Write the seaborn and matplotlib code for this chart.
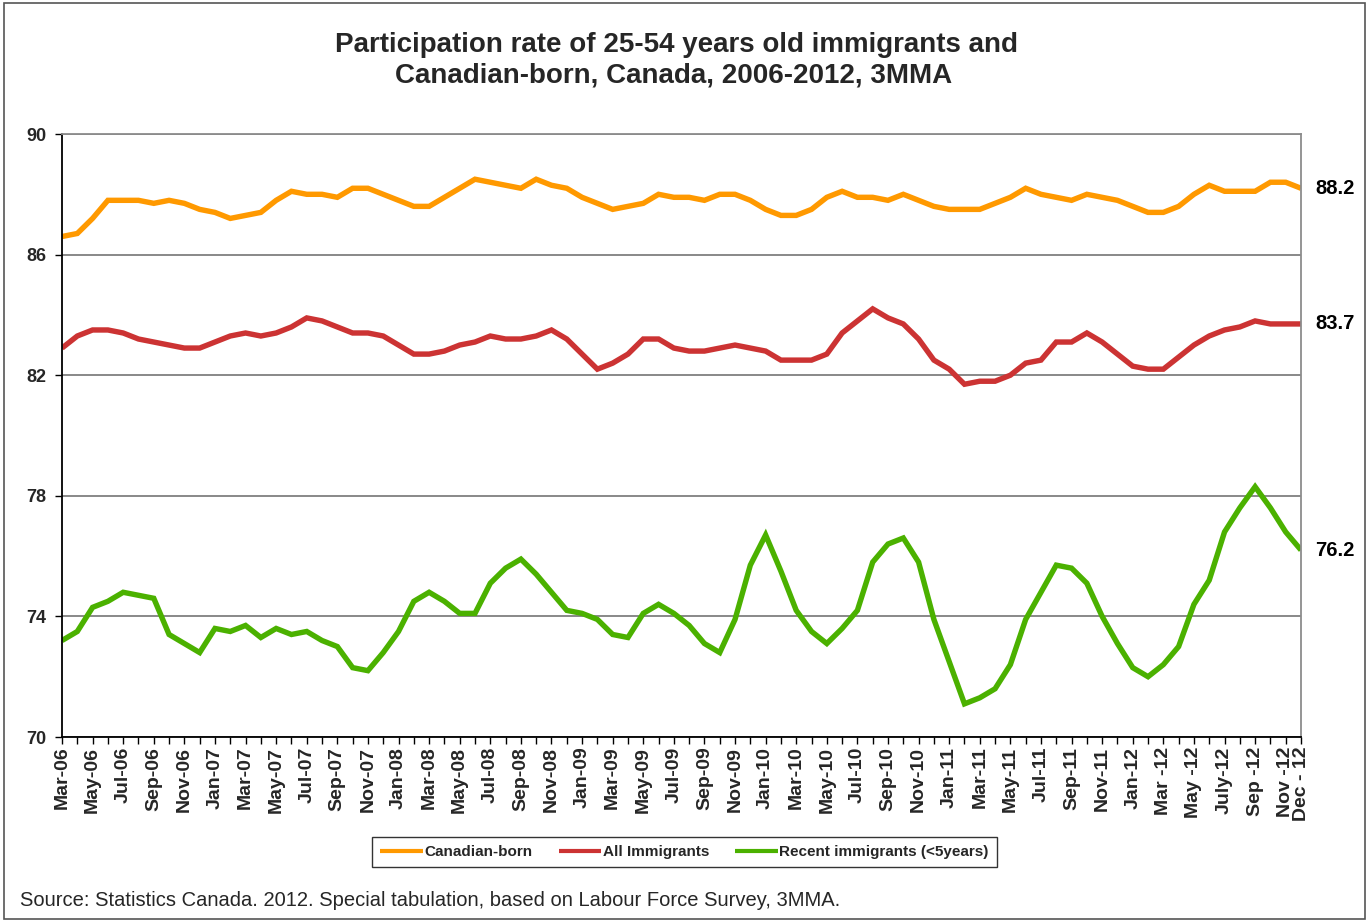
import matplotlib
matplotlib.use("Agg")
import matplotlib.pyplot as plt
from matplotlib.patches import Rectangle
import pandas as pd
import seaborn as sns

# Monthly 3-month moving averages, Mar 2006 - Dec 2012
canadian_born = [
    86.6, 86.7, 87.2, 87.8, 87.8, 87.8, 87.7, 87.8, 87.7, 87.5,
    87.4, 87.2, 87.3, 87.4, 87.8, 88.1, 88.0, 88.0, 87.9, 88.2,
    88.2, 88.0, 87.8, 87.6, 87.6, 87.9, 88.2, 88.5, 88.4, 88.3,
    88.2, 88.5, 88.3, 88.2, 87.9, 87.7, 87.5, 87.6, 87.7, 88.0,
    87.9, 87.9, 87.8, 88.0, 88.0, 87.8, 87.5, 87.3, 87.3, 87.5,
    87.9, 88.1, 87.9, 87.9, 87.8, 88.0, 87.8, 87.6, 87.5, 87.5,
    87.5, 87.7, 87.9, 88.2, 88.0, 87.9, 87.8, 88.0, 87.9, 87.8,
    87.6, 87.4, 87.4, 87.6, 88.0, 88.3, 88.1, 88.1, 88.1, 88.4,
    88.4, 88.2,
]
all_immigrants = [
    82.9, 83.3, 83.5, 83.5, 83.4, 83.2, 83.1, 83.0, 82.9, 82.9,
    83.1, 83.3, 83.4, 83.3, 83.4, 83.6, 83.9, 83.8, 83.6, 83.4,
    83.4, 83.3, 83.0, 82.7, 82.7, 82.8, 83.0, 83.1, 83.3, 83.2,
    83.2, 83.3, 83.5, 83.2, 82.7, 82.2, 82.4, 82.7, 83.2, 83.2,
    82.9, 82.8, 82.8, 82.9, 83.0, 82.9, 82.8, 82.5, 82.5, 82.5,
    82.7, 83.4, 83.8, 84.2, 83.9, 83.7, 83.2, 82.5, 82.2, 81.7,
    81.8, 81.8, 82.0, 82.4, 82.5, 83.1, 83.1, 83.4, 83.1, 82.7,
    82.3, 82.2, 82.2, 82.6, 83.0, 83.3, 83.5, 83.6, 83.8, 83.7,
    83.7, 83.7,
]
recent_immigrants = [
    73.2, 73.5, 74.3, 74.5, 74.8, 74.7, 74.6, 73.4, 73.1, 72.8,
    73.6, 73.5, 73.7, 73.3, 73.6, 73.4, 73.5, 73.2, 73.0, 72.3,
    72.2, 72.8, 73.5, 74.5, 74.8, 74.5, 74.1, 74.1, 75.1, 75.6,
    75.9, 75.4, 74.8, 74.2, 74.1, 73.9, 73.4, 73.3, 74.1, 74.4,
    74.1, 73.7, 73.1, 72.8, 73.9, 75.7, 76.7, 75.5, 74.2, 73.5,
    73.1, 73.6, 74.2, 75.8, 76.4, 76.6, 75.8, 73.9, 72.5, 71.1,
    71.3, 71.6, 72.4, 73.9, 74.8, 75.7, 75.6, 75.1, 74.0, 73.1,
    72.3, 72.0, 72.4, 73.0, 74.4, 75.2, 76.8, 77.6, 78.3, 77.6,
    76.8, 76.2,
]
series_names = ["Canadian-born", "All Immigrants", "Recent immigrants (<5years)"]
series_colors = ["#FF9900", "#CC3333", "#4BB100"]

tick_labels = [
    "Mar-06", "May-06", "Jul-06", "Sep-06", "Nov-06",
    "Jan-07", "Mar-07", "May-07", "Jul-07", "Sep-07", "Nov-07",
    "Jan-08", "Mar-08", "May-08", "Jul-08", "Sep-08", "Nov-08",
    "Jan-09", "Mar-09", "May-09", "Jul-09", "Sep-09", "Nov-09",
    "Jan-10", "Mar-10", "May-10", "Jul-10", "Sep-10", "Nov-10",
    "Jan-11", "Mar-11", "May-11", "Jul-11", "Sep-11", "Nov-11",
    "Jan-12", "Mar -12", "May -12", "July-12", "Sep -12", "Nov -12",
    "Dec - 12",
]

title_lines = ["Participation rate of 25-54 years old immigrants and",
               "Canadian-born, Canada, 2006-2012, 3MMA"]
source = "Source: Statistics Canada. 2012. Special tabulation, based on Labour Force Survey, 3MMA."

n = len(canadian_born)
frames = []
for name, vals in zip(series_names, [canadian_born, all_immigrants, recent_immigrants]):
    frames.append(pd.DataFrame({"month": range(n), "rate": vals, "series": name}))
df = pd.concat(frames, ignore_index=True)

sns.set_theme(style="white")
plt.rcParams["font.family"] = ["Liberation Sans", "DejaVu Sans"]

fig = plt.figure(figsize=(13.69, 9.22), dpi=100)
ax = fig.add_axes([62 / 1369, 1 - 737 / 922, (1301 - 62) / 1369, (737 - 134) / 922])

sns.lineplot(data=df, x="month", y="rate", hue="series", hue_order=series_names,
             palette=series_colors, linewidth=3.9, sort=False, ax=ax, legend=False,
             solid_joinstyle="miter", solid_capstyle="butt")

ax.set_xlim(0, n - 1)
ax.set_ylim(70, 90)
ax.set_yticks([70, 74, 78, 82, 86, 90])
ax.set_yticklabels(["70", "74", "78", "82", "86", "90"], fontsize=13, fontweight="bold")

tick_pos = list(range(0, n - 1, 2)) + [n - 1]
ax.set_xticks(range(n), minor=True)
ax.set_xticks(tick_pos)
ax.set_xticklabels(tick_labels, rotation=90, fontsize=14, fontweight="bold",
                   ha="center", va="top")
ax.tick_params(axis="x", which="both", direction="out", length=5, width=1,
               color="black", pad=2, bottom=True)
ax.tick_params(axis="y", direction="out", length=5, width=1, color="black",
               pad=6, left=True)
ax.set_xlabel("")
ax.set_ylabel("")

ax.grid(axis="y", color="#7f7f7f", linewidth=1.3)
ax.grid(axis="x", visible=False)
ax.set_axisbelow(True)
for side in ["left", "bottom"]:
    ax.spines[side].set_color("black")
    ax.spines[side].set_linewidth(1.3)
for side in ["right", "top"]:
    ax.spines[side].set_color("#8c8c8c")
    ax.spines[side].set_linewidth(1.3)

# End-of-period values
for vals in [canadian_born, all_immigrants, recent_immigrants]:
    ax.annotate(f"{vals[-1]:.1f}", xy=(n - 1, vals[-1]), xytext=(14, 0),
                textcoords="offset pixels", ha="left", va="center",
                fontsize=14.5, fontweight="bold", color="black", annotation_clip=False)

fig.text(0.494, 0.951, title_lines[0], ha="center", va="center",
         fontsize=20, fontweight="bold")
fig.text(0.492, 0.918, title_lines[1], ha="center", va="center",
         fontsize=20, fontweight="bold")

handles = ax.get_lines()[:3]
leg = fig.legend(handles, series_names, loc="center", bbox_to_anchor=(0.5, 0.076),
                 ncol=3, frameon=True, fancybox=False, shadow=False,
                 prop={"size": 11, "weight": "bold"}, handlelength=2.8,
                 handletextpad=0.1, columnspacing=1.7, borderpad=0.55,
                 borderaxespad=0)
leg.get_frame().set_edgecolor("black")
leg.get_frame().set_linewidth(1.0)
for h in leg.get_lines():
    h.set_linewidth(3.0)

fig.text(20 / 1369, 1 - 900 / 922, source, ha="left", va="center", fontsize=14.5)

fig.patches.append(Rectangle((0.003, 0.003), 0.994, 0.994, transform=fig.transFigure,
                             fill=False, edgecolor="#555555", linewidth=1.2))

fig.savefig("out.png", dpi=100, facecolor="white")
